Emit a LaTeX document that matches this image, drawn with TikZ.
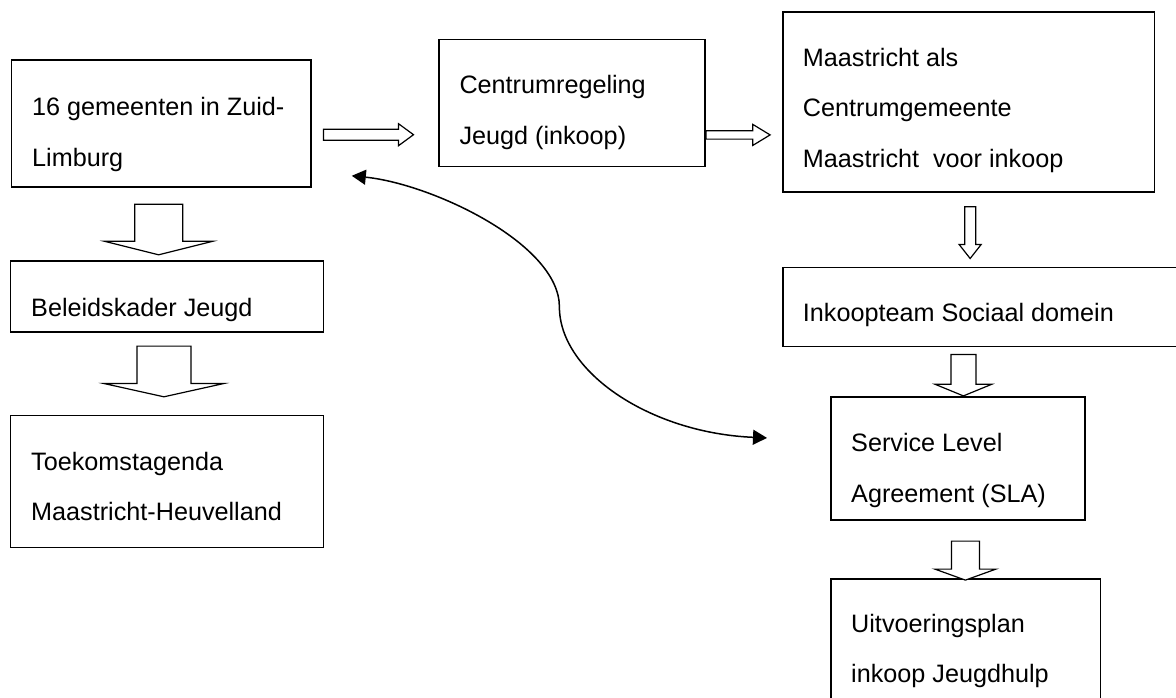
\documentclass[tikz,border=0pt]{standalone}
\usepackage{fontspec}
\setmainfont{Liberation Sans}
\usepackage{tikz}
\usetikzlibrary{arrows.meta,calc}

\tikzset{
    pics/downblock/.style n args={4}{code={
        \draw[blockline] (-#3,0) -- (#3,0) -- (#3,#1) -- (#4,#1) -- (0,#2) -- (-#4,#1) -- (-#3,#1) -- cycle;
    }},
    pics/rightblock/.style n args={4}{code={
        \draw[blockline] (0,-#3) -- (#1,-#3) -- (#1,-#4) -- (#2,0) -- (#1,#4) -- (#1,#3) -- (0,#3) -- cycle;
    }},
}

\begin{document}
\begin{tikzpicture}[x=1pt,y=-1pt,
        box/.style={draw,line width=1.8pt,rectangle,anchor=north west,inner sep=0pt},
        txt/.style={anchor=base west,align=left,inner sep=0pt,font=\fontsize{25.2}{50.5}\selectfont},
        blockline/.style={draw,line width=1.2pt,fill=white,line join=miter},
        swing/.style={line width=1.5pt,{Triangle[length=14pt,width=15pt]}-{Triangle[length=14pt,width=15pt]}}]
        \useasboundingbox (0,0) rectangle (1176,697);
        \clip (0,0) rectangle (1176,697);

        \node[box,minimum width=299.5pt,minimum height=127pt] (gem) at (10.5,59) {};
        \node[box,minimum width=266pt,minimum height=127pt] (crg) at (438,38.5) {};
        \node[box,minimum width=371.5pt,minimum height=180pt] (mst) at (782,11) {};
        \node[box,minimum width=313pt,minimum height=71pt] (bel) at (9.5,260) {};
        \node[box,minimum width=313pt,minimum height=132pt] (tka) at (9.5,414.5) {};
        \node[box,minimum width=420pt,minimum height=79pt] (ink) at (782,266.5) {};
        \node[box,minimum width=254pt,minimum height=123pt] (sla) at (830,396) {};
        \node[box,minimum width=269.5pt,minimum height=140pt] (uvp) at (830,577.7) {};

        % base sits on the last line of each text
        \node[txt] (gem-t) at ([shift={(21.5,107)}]gem.north west) {16 gemeenten in Zuid-\\Limburg};
        \node[txt] (crg-t) at ([shift={(21.3,105.5)}]crg.north west) {Centrumregeling\\Jeugd (inkoop)};
        \node[txt] (mst-t) at ([shift={(20.7,156.2)}]mst.north west) {Maastricht als\\Centrumgemeente\\Maastricht~ voor inkoop};
        \node[txt] (bel-t) at ([shift={(21.5,56.7)}]bel.north west) {Beleidskader Jeugd};
        \node[txt] (tka-t) at ([shift={(21.5,106)}]tka.north west) {Toekomstagenda\\Maastricht-Heuvelland};
        \node[txt] (ink-t) at ([shift={(20.7,55.2)}]ink.north west) {Inkoopteam Sociaal domein};
        \node[txt] (sla-t) at ([shift={(21,106)}]sla.north west) {Service Level\\Agreement (SLA)};
        \node[txt] (uvp-t) at ([shift={(21,105)}]uvp.north west) {Uitvoeringsplan\\inkoop Jeugdhulp};

        \pic at ([shift={(11.7,11.3)}]gem.east) {rightblock={75}{90}{5.5}{11}};
        \pic at ([shift={(0.3,32)}]crg.east) {rightblock={46.7}{64}{4.2}{10.5}};
        \pic at ([shift={(-2.5,16.5)}]gem.south) {downblock={37}{50.5}{24}{54}};
        \pic at ([shift={(-3,13.3)}]bel.south) {downblock={37.4}{50.7}{27}{60}};
        \pic at ([shift={(1.5,14)}]mst.south) {downblock={37.7}{51.7}{5.5}{11}};
        \pic at ([shift={(5.5,-41.5)}]sla.north) {downblock={29.7}{41.4}{12.5}{28.5}};
        \pic at ([shift={(7.5,20.3)}]sla.south) {downblock={28}{39}{14}{30.5}};

        \coordinate (cl) at ([shift={(40,-12)}]gem.south east);
        \coordinate (cr) at ([shift={(-63,-20.5)}]sla.west);
        \coordinate (cm) at ($(cl)!0.5!(cr)$);
        \draw[swing] (cl) .. controls +(80,8) and +(0,-63) .. (cm)
            .. controls +(0,65) and +(-117,-5) .. (cr);
\end{tikzpicture}
\end{document}
